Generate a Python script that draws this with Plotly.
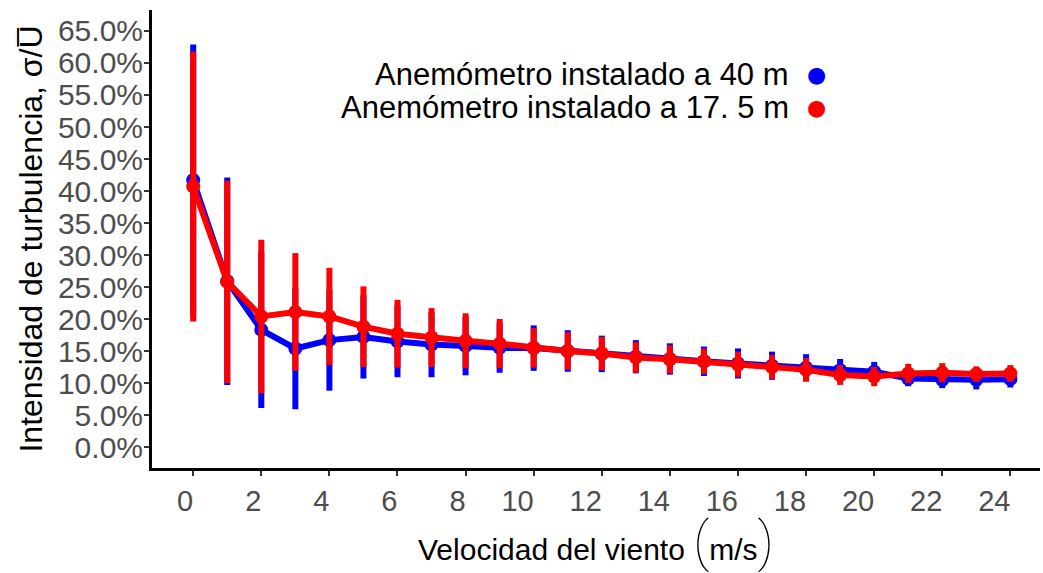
import plotly.graph_objects as go

# Wind speed bins (m/s)
velocidad = list(range(0, 25))

# Anemometer at 40 m: mean turbulence intensity and standard deviation
ti_40_media = [0.417, 0.259, 0.183, 0.154, 0.167, 0.172, 0.165, 0.160, 0.158, 0.155,
               0.1545, 0.150, 0.1455, 0.141, 0.1375, 0.134, 0.1305, 0.127, 0.124, 0.120,
               0.1175, 0.107, 0.105, 0.105, 0.106]
ti_40_sd = [0.212, 0.162, 0.122, 0.095, 0.079, 0.065, 0.056, 0.051, 0.046, 0.039,
            0.0355, 0.0325, 0.0285, 0.026, 0.0245, 0.023, 0.0235, 0.022, 0.021, 0.0175,
            0.0155, 0.012, 0.013, 0.015, 0.013]

# Anemometer at 17.5 m
ti_175_media = [0.407, 0.258, 0.204, 0.211, 0.204, 0.188, 0.177, 0.171, 0.166, 0.1615,
                0.155, 0.150, 0.146, 0.140, 0.137, 0.134, 0.129, 0.125, 0.1205, 0.1125,
                0.110, 0.115, 0.116, 0.114, 0.115]
ti_175_sd = [0.211, 0.158, 0.120, 0.092, 0.076, 0.063, 0.053, 0.046, 0.043, 0.0385,
             0.031, 0.029, 0.026, 0.024, 0.022, 0.020, 0.020, 0.019, 0.0185, 0.0155,
             0.015, 0.015, 0.015, 0.012, 0.013]

x_ticks = list(range(0, 25, 2))
y_ticks = [i * 0.05 for i in range(14)]

series_names = ["Anemómetro instalado a 40 m", "Anemómetro instalado a 17. 5 m"]
series_colors = ["#0000FF", "#FF0000"]

FONT = "Liberation Sans, Arial, Helvetica, sans-serif"
TICK_GREY = "#4D4D4D"

fig = go.Figure()
for name, color, media, sd in [
    (series_names[0], series_colors[0], ti_40_media, ti_40_sd),
    (series_names[1], series_colors[1], ti_175_media, ti_175_sd),
]:
    fig.add_trace(go.Scatter(
        x=velocidad, y=media, name=name, mode="lines+markers",
        line=dict(color=color, width=6),
        marker=dict(color=color, size=14),
        error_y=dict(type="data", array=sd, visible=True,
                     color=color, thickness=6, width=0),
        showlegend=False,
    ))

# Labels right-aligned on their tick: pad with figure spaces
x_ticktext = [str(v) + "\u2007" * len(str(v)) for v in x_ticks]

# Tall, thin parentheses around the unit
paren = "<span style='font-family:Roboto;font-size:54px;font-weight:100'>{}</span>"

fig.update_layout(
    width=1043, height=573,
    margin=dict(l=152, r=0, t=10, b=105),
    paper_bgcolor="white", plot_bgcolor="white",
    font=dict(family=FONT, color="black"),
    xaxis=dict(
        range=[-1.21, 24.87],
        tickmode="array", tickvals=x_ticks, ticktext=x_ticktext,
        ticklabeloverflow="allow",
        showgrid=False, zeroline=False,
        showline=True, linecolor="black", linewidth=3,
        ticks="outside", ticklen=5, tickwidth=1.5, tickcolor="#333333",
        tickfont=dict(size=29, color=TICK_GREY, family=FONT),
        title=dict(
            text="Velocidad del viento " + paren.format("(") + "m/s" + paren.format(")"),
            font=dict(size=30, color="black", family=FONT), standoff=6),
    ),
    yaxis=dict(
        range=[-0.0328, 0.6828],
        tickmode="array", tickvals=y_ticks, tickformat=".1%",
        showgrid=False, zeroline=False,
        showline=True, linecolor="black", linewidth=3,
        ticks="outside", ticklen=5, tickwidth=1.5, tickcolor="#333333",
        ticklabelstandoff=-5,
        tickfont=dict(size=30, color=TICK_GREY, family=FONT),
        title=dict(text="Intensidad de turbulencia, σ/U\u0305",
                   font=dict(size=32, color="black", family=FONT), standoff=6),
    ),
)

# Legend: labels right-aligned with the colour key on the right
legend_rows = [0.86, 0.787]
for name, color, yy in zip(series_names, series_colors, legend_rows):
    fig.add_annotation(xref="paper", yref="paper", x=0.72, y=yy,
                       xanchor="right", yanchor="middle", showarrow=False,
                       text=name, font=dict(size=31, color="black", family=FONT))
    fig.add_annotation(xref="paper", yref="paper", x=0.748, y=yy,
                       xanchor="center", yanchor="middle", showarrow=False,
                       text="●", font=dict(size=22, color=color, family="DejaVu Sans"))

fig.write_html("out.html")
